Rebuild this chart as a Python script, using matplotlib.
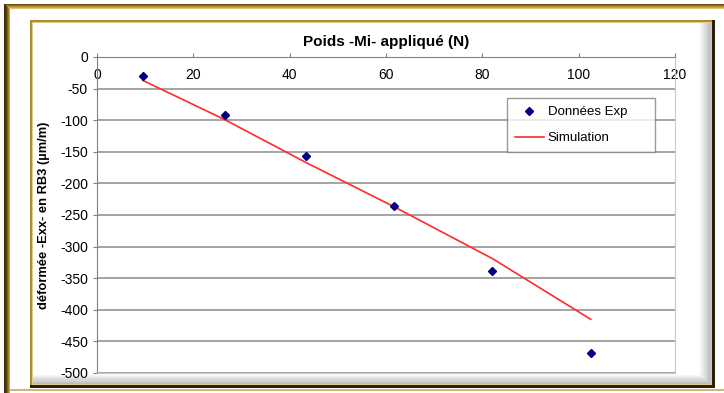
import matplotlib.pyplot as plt
from matplotlib.patches import Rectangle

# données
poids = [9.5, 26.5, 43.4, 61.7, 82.1, 102.5]
exx_exp = [-30, -92, -157, -235, -338, -469]
exx_simulation = [-37, -99, -167, -237, -319, -415]
x_ticks = [0, 20, 40, 60, 80, 100, 120]
y_ticks = [0, -50, -100, -150, -200, -250, -300, -350, -400, -450, -500]

W, H = 724, 393
plt.rcParams['font.family'] = ['Liberation Sans', 'DejaVu Sans']
plt.rcParams['axes.unicode_minus'] = False
fig = plt.figure(figsize=(W / 100, H / 100), dpi=100)


def rect(x0, y0, x1, y1, color, z=-5):
    # rectangle en pixels (origine en haut a gauche)
    fig.patches.append(Rectangle((x0 / W, 1 - y1 / H), (x1 - x0) / W, (y1 - y0) / H,
                                 transform=fig.transFigure, facecolor=color,
                                 edgecolor='none', zorder=z))


# cadre exterieur
for i, c in enumerate(['#6b4e0a', '#8f6d1a', '#b08c30', '#c9a84e', '#dcc27a']):
    rect(4, 4 + i, W, 5 + i, c)
for i, c in enumerate(['#3b2a05', '#4a3508', '#5a4210', '#7d5e18', '#a07d2a', '#c4a250']):
    rect(4 + i, 4 + i, 5 + i, H, c)
rect(10, 389, W, 391, '#cdb87a')

# cadre interieur
rect(30, 20, 715, 388, '#2e2000', -9)
rect(30, 20, 712, 385, '#b08c30', -8)
rect(32, 22, 712, 385, '#e0cc90', -7)
rect(33, 23, 711, 384, 'white', -6)
# ombre grise a droite et en bas
grays = ['#f6f6f6', '#eeeeee', '#e6e6e6', '#dedede', '#d6d6d6', '#cecece', '#c6c6c6', '#bcbcbc']
for i, c in enumerate(grays):
    rect(700 + i * 1.4, 23, 711, 384, c, -5.5 + i * 0.01)
    rect(33, 375 + i * 1.1, 711, 384, c, -5.5 + i * 0.01)

ax = fig.add_axes([97 / W, 1 - 373 / H, 578 / W, 316 / H])
ax.set_facecolor('white')

ax.plot(poids, exx_exp, linestyle='none', marker='D', markersize=4.5,
        color='#000080', label='Données Exp', zorder=4)
ax.plot(poids, exx_simulation, color='#ff2a2a', linewidth=1.2,
        label='Simulation', zorder=3)

ax.set_xlim(0, 120)
ax.set_ylim(-500, 0)
ax.set_xticks(x_ticks)
ax.set_yticks(y_ticks)
ax.grid(axis='y', color='#8c8c8c', linewidth=1.1)
ax.set_axisbelow(True)

ax.tick_params(axis='x', top=True, bottom=False, labeltop=True, labelbottom=False,
               direction='out', length=3, pad=-21, color='#808080', labelsize=10)
ax.tick_params(axis='y', direction='out', length=3, pad=3.5, color='#808080', labelsize=10)

for s in ['left', 'top']:
    ax.spines[s].set_color('#808080')
for s in ['right', 'bottom']:
    ax.spines[s].set_color('#c8c8c8')

ax.text(0.5, 1 + 15 / 316, 'Poids -Mi- appliqué (N)', transform=ax.transAxes,
        ha='center', va='center', fontsize=11, fontweight='bold')
ax.set_ylabel('déformée -Exx- en RB3 (µm/m)', fontsize=9.3, fontweight='bold')
ax.yaxis.set_label_coords(-47 / 578, 0.5)

leg = ax.legend(loc='upper left', bbox_to_anchor=(410 / 578, 275 / 316, 148 / 578, 0.0),
                mode='expand', borderaxespad=0, fontsize=9.5, frameon=True,
                fancybox=False, edgecolor='#808080', borderpad=0.6, labelspacing=1.05,
                handlelength=2.2, handletextpad=0.3)
leg.get_frame().set_linewidth(1.0)

fig.savefig('out.png', dpi=100)
